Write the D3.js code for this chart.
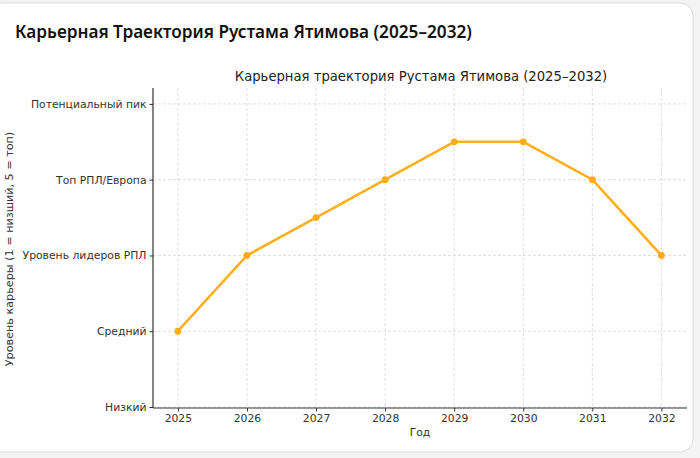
<!DOCTYPE html>
<html><head><meta charset="utf-8">
<script src="https://cdn.jsdelivr.net/npm/d3@7"></script>
<style>
html,body{margin:0;padding:0;background:#f3f3f3;}
svg{display:block;}
</style></head>
<body>
<svg id="c" width="700" height="458"></svg>
<script>
const years = [2025, 2026, 2027, 2028, 2029, 2030, 2031, 2032];
const levels = [2, 3, 3.5, 4, 4.5, 4.5, 4, 3];
const levelTicks = [1, 2, 3, 4, 5];
const levelLabels = ["Низкий", "Средний", "Уровень лидеров РПЛ", "Топ РПЛ/Европа", "Потенциальный пик"];
const cardTitle = "Карьерная Траектория Рустама Ятимова (2025–2032)";
const chartTitle = "Карьерная траектория Рустама Ятимова (2025–2032)";
const xLabel = "Год";
const yLabel = "Уровень карьеры (1 = низший, 5 = топ)";

const svg = d3.select("#c");
svg.append("rect").attr("x", -12).attr("y", 3).attr("width", 705).attr("height", 449)
  .attr("rx", 13).attr("fill", "#fff").attr("stroke", "#dcdcdc").attr("stroke-width", 1);

svg.append("text").attr("x", 15).attr("y", 38).text(cardTitle)
  .attr("font-family", "'Noto Sans', sans-serif").attr("font-size", 17.2).attr("font-weight", 600)
  .attr("fill", "#111");

const L = 153, R = 687, T = 88, B = 408;
const x = d3.scaleLinear().domain([2024.64, 2032.37]).range([L, R]);
const y = d3.scaleLinear().domain([1, 5.21]).range([B - 1, T]);

const font = "'DejaVu Sans', sans-serif";
const g = svg.append("g");

// grid
g.selectAll(".gx").data(years).enter().append("line")
  .attr("x1", d => x(d)).attr("x2", d => x(d)).attr("y1", T).attr("y2", B)
  .attr("stroke", "#d8d8d8").attr("stroke-width", 0.8).attr("stroke-dasharray", "3,2");
g.selectAll(".gy").data(levelTicks).enter().append("line")
  .attr("x1", L).attr("x2", R).attr("y1", d => y(d)).attr("y2", d => y(d))
  .attr("stroke", "#d8d8d8").attr("stroke-width", 0.8).attr("stroke-dasharray", "3,2");

// axes
const xa = g.append("g").attr("transform", `translate(0,${B})`)
  .call(d3.axisBottom(x).tickValues(years).tickFormat(d3.format("d")).tickSize(3.5).tickPadding(3));
const ya = g.append("g").attr("transform", `translate(${L},0)`)
  .call(d3.axisLeft(y).tickValues(levelTicks).tickFormat((d, i) => levelLabels[i]).tickSize(3.5).tickPadding(3));
[xa, ya].forEach(a => {
  a.select(".domain").attr("stroke", "#333").attr("stroke-width", 1.2);
  a.selectAll(".tick line").attr("stroke", "#333");
  a.selectAll(".tick text").attr("font-family", font).attr("font-size", 10.8).attr("fill", "#333");
});
xa.select(".domain").attr("d", `M${L},0H${R}`);
ya.select(".domain").attr("d", `M0,${T}V${B}`);

// line
const line = d3.line().x((d, i) => x(years[i])).y(d => y(d));
g.append("path").datum(levels).attr("d", line).attr("fill", "none")
  .attr("stroke", "#ffb01c").attr("stroke-width", 2.6).attr("stroke-linejoin", "round");
g.selectAll(".pt").data(levels).enter().append("circle")
  .attr("cx", (d, i) => x(years[i])).attr("cy", d => y(d)).attr("r", 3.4).attr("fill", "#ffab14");

// titles
g.append("text").attr("x", 421).attr("y", 81).attr("text-anchor", "middle")
  .attr("font-family", font).attr("font-size", 13.2).attr("fill", "#222").text(chartTitle);
g.append("text").attr("x", (L + R) / 2).attr("y", 436).attr("text-anchor", "middle")
  .attr("font-family", font).attr("font-size", 10.8).attr("fill", "#333").text(xLabel);
g.append("text").attr("transform", `translate(13,${249}) rotate(-90)`).attr("text-anchor", "middle")
  .attr("font-family", font).attr("font-size", 11.2).attr("fill", "#333").text(yLabel);
</script>
</body></html>
